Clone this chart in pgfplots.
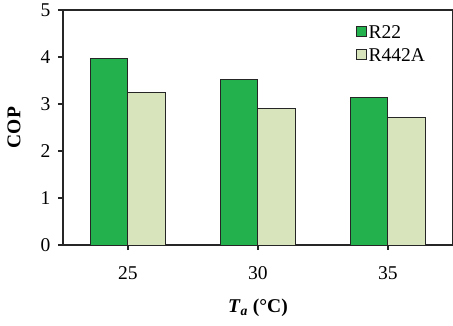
\documentclass[border=0pt]{standalone}
\usepackage{pgfplots}
\pgfplotsset{compat=1.18}
\usepackage{fontspec}
\setmainfont{Liberation Serif}
\definecolor{gA}{HTML}{22B14C}
\definecolor{gB}{HTML}{D8E4BC}
\definecolor{edge}{HTML}{262626}
\begin{document}
\begin{tikzpicture}
\begin{axis}[
  at={(0,0)}, anchor=south west,
  scale only axis, width=390pt, height=235pt,
  xmin=-0.5, xmax=2.5, ymin=0, ymax=5,
  xtick=data, xticklabels={25,30,35},
  ytick={0,1,2,3,4,5},
  xtick pos=bottom, ytick pos=left,
  tick align=outside, major tick length=5pt,
  tick style={line width=1.3pt, color=edge},
  axis line style={line width=1.3pt, color=edge},
  /pgf/number format/assume math mode=true,
  tick label style={font=\fontsize{19.5}{21}\selectfont},
  yticklabel style={xshift=-4pt},
  xticklabel style={yshift=-13pt},
  ylabel={\textbf{COP}},
  ylabel style={font=\fontsize{19.5}{21}\selectfont, at={(-49pt,0.5)}, anchor=center},
  xlabel={\textbf{\textit{T}}\textsubscript{\textbf{\textit{a}}} \textbf{(°C)}},
  xlabel style={font=\fontsize{19.5}{21}\selectfont, at={(0.5,-63pt)}, anchor=center},
  ybar=0pt, bar width=37.5pt,
  legend style={at={(0.75,0.945)}, anchor=north west, draw=none, fill=none,
    font=\fontsize{19.5}{21}\selectfont, row sep=5pt,
    legend cell align=left, inner sep=0pt,
    /tikz/every even column/.append style={column sep=3pt}},
  legend image code/.code={\draw[#1] (0pt,-4pt) rectangle (10pt,6pt);},
]
\addplot[fill=gA, draw=edge, line width=1pt] coordinates {(0,3.96) (1,3.52) (2,3.13)};
\addplot[fill=gB, draw=edge, line width=1pt] coordinates {(0,3.25) (1,2.91) (2,2.72)};
\legend{R22,R442A}
\end{axis}
\pgfresetboundingbox
\path[use as bounding box] (-63pt,-80pt) rectangle (390pt,245pt);
\end{tikzpicture}
\end{document}
